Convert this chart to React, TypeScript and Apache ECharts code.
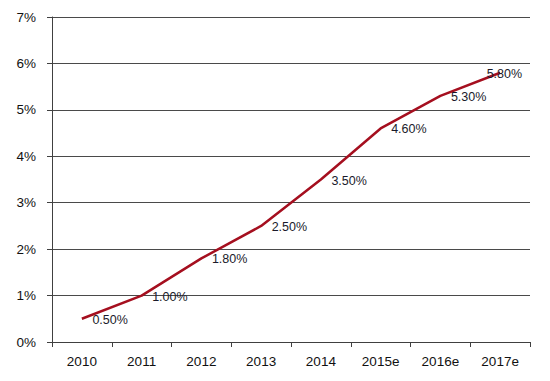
import React, { useEffect, useRef } from "react";
import * as echarts from "echarts";

const categories = ["2010", "2011", "2012", "2013", "2014", "2015e", "2016e", "2017e"];
const values = [0.5, 1.0, 1.8, 2.5, 3.5, 4.6, 5.3, 5.8];
const yTicks = [0, 1, 2, 3, 4, 5, 6, 7];

export default function App() {
  const ref = useRef<HTMLDivElement>(null);
  useEffect(() => {
    if (!ref.current) return;
    const chart = echarts.init(ref.current, undefined, { renderer: "svg" });
    const data = values.map((v, i) =>
      i === values.length - 1
        ? { value: v, label: { offset: [-24, 1] } }
        : { value: v }
    );
    chart.setOption({
      animation: false,
      backgroundColor: "#ffffff",
      textStyle: { fontFamily: "Liberation Sans, Arial, sans-serif" },
      grid: { left: 52, right: 20, top: 17, bottom: 39, containLabel: false },
      xAxis: {
        type: "category",
        data: categories,
        boundaryGap: true,
        axisLine: { lineStyle: { color: "#404040", width: 1 } },
        axisTick: { show: true, alignWithLabel: false, length: 5, lineStyle: { color: "#404040" } },
        axisLabel: { color: "#111111", fontSize: 13.5, margin: 12 },
        splitLine: { show: false },
      },
      yAxis: {
        type: "value",
        min: yTicks[0],
        max: yTicks[yTicks.length - 1],
        interval: 1,
        axisLine: { show: true, lineStyle: { color: "#404040", width: 1 } },
        axisTick: { show: true, length: 5, lineStyle: { color: "#404040" } },
        axisLabel: { color: "#111111", fontSize: 13.5, margin: 16, formatter: (v: number) => v + "%" },
        splitLine: { show: true, lineStyle: { color: "#4a4a4a", width: 1.2 } },
      },
      series: [
        {
          type: "line",
          data,
          showSymbol: true,
          symbol: "circle",
          symbolSize: 1,
          itemStyle: { color: "rgba(0,0,0,0)" },
          lineStyle: { color: "#a50f1f", width: 2.5 },
          label: {
            show: true,
            position: "right",
            distance: 10,
            offset: [0, 1],
            color: "#1a1a2a",
            fontSize: 12.5,
            formatter: (p: any) => Number(p.value).toFixed(2) + "%",
          },
        },
      ],
    });
    return () => chart.dispose();
  }, []);
  return <div ref={ref} style={{ width: 550, height: 381, margin: -8 }} />;
}
